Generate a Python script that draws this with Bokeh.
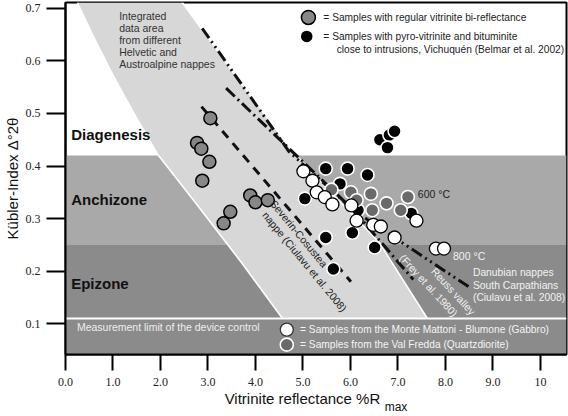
import math
from bokeh.plotting import figure
from bokeh.models import ColumnDataSource, FixedTicker, LinearAxis, Range1d
from bokeh.core.properties import value
from bokeh.embed import file_html
from bokeh.resources import INLINE

# ---------------- axes ----------------
X_START, X_END = 0.0, 10.55
Y_START, Y_END = 0.0415, 0.711
x_ticks = [0, 1, 2, 3, 4, 5, 6, 7, 8, 9, 10]
x_tick_labels = ["0.0", "1.0", "2.0", "3.0", "4.0", "5.0", "6.0", "7.0", "8.0", "9.0", "10"]
y_ticks = [0.1, 0.2, 0.3, 0.4, 0.5, 0.6, 0.7]
y_tick_labels = ["0.1", "0.2", "0.3", "0.4", "0.5", "0.6", "0.7"]
x_title = "Vitrinite reflectance %R"
x_title_sub = "max"
y_title = "Kübler-Index Δ°2θ"
x_title_pos = 4.99
x_title_sub_pos = 6.96

# ---------------- zones ----------------
diag_anchi = 0.42
anchi_epi = 0.25
meas_limit = 0.11

band_left_x = [0.25, 0.572, 0.992, 1.453, 1.935, 2.774, 3.717, 4.57]
band_left_y = [0.711, 0.649, 0.574, 0.498, 0.423, 0.326, 0.215, 0.11]
band_right_x = [2.46, 3.633, 4.828, 5.75, 6.61, 7.62]
band_right_y = [0.711, 0.565, 0.423, 0.335, 0.254, 0.11]

# ---------------- trend lines ----------------
severin_x = [2.864, 6.01]
severin_y = [0.513, 0.180]
frey_x = [3.382, 6.065, 7.323]
frey_y = [0.548, 0.316, 0.184]
danubian_x = [2.878, 4.702, 6.065, 6.925, 8.497]
danubian_y = [0.662, 0.428, 0.316, 0.264, 0.170]

# ---------------- samples ----------------
regular_x = [3.05, 2.77, 2.86, 3.03, 2.88, 3.89, 4.00, 4.26, 3.47, 3.33]
regular_y = [0.491, 0.444, 0.433, 0.408, 0.372, 0.344, 0.331, 0.335, 0.313, 0.291]

pyro_x = [6.62, 6.82, 6.93, 6.78, 5.48, 5.94, 6.36, 5.78, 5.04, 6.16, 7.28, 5.48, 6.04, 6.51, 5.64]
pyro_y = [0.450, 0.459, 0.466, 0.435, 0.395, 0.395, 0.383, 0.366, 0.338, 0.316, 0.310, 0.264, 0.273, 0.245, 0.204]

valfredda_x = [5.60, 6.01, 6.13, 6.43, 6.46, 6.76, 7.06, 7.21]
valfredda_y = [0.355, 0.350, 0.335, 0.347, 0.316, 0.329, 0.316, 0.341]

mattoni_x = [5.01, 5.20, 5.29, 5.46, 5.62, 6.02, 6.13, 6.48, 6.64, 6.93, 7.39, 7.80, 7.97]
mattoni_y = [0.390, 0.372, 0.350, 0.341, 0.327, 0.325, 0.296, 0.288, 0.285, 0.264, 0.296, 0.243, 0.243]

# ---------------- colours ----------------
C_ANCHI = "#a9a9a9"
C_EPI = "#8b8b8b"
C_BAND = "#d7d7d7"
C_REG = "#878787"
C_VF = "#6a6a6a"

p = figure(width=568, height=416,
           x_range=Range1d(X_START, X_END), y_range=Range1d(Y_START, Y_END),
           output_backend="svg", toolbar_location=None,
           min_border_left=63, min_border_right=2, min_border_top=2, min_border_bottom=59)
p.xgrid.visible = False
p.ygrid.visible = False
p.background_fill_color = "white"
p.border_fill_color = "white"
p.outline_line_color = "black"
p.outline_line_width = 2

# zones
p.quad(left=[X_START], right=[X_END], bottom=[anchi_epi], top=[diag_anchi],
       fill_color=C_ANCHI, line_color=None)
p.quad(left=[X_START], right=[X_END], bottom=[Y_START], top=[anchi_epi],
       fill_color=C_EPI, line_color=None)
band_x = band_left_x + band_right_x[::-1]
band_y = band_left_y + band_right_y[::-1]
p.patch(band_x, band_y, fill_color=C_BAND, line_color=None)
p.line(band_left_x, band_left_y, line_color="white", line_width=1.6)
p.line(band_right_x, band_right_y, line_color="white", line_width=1.6)
p.line([X_START, X_END], [meas_limit, meas_limit], line_color="white", line_width=2)

# trend lines
p.line(severin_x, severin_y, line_color="#111111", line_width=3, line_dash="9 7")
p.line(frey_x, frey_y, line_color="#111111", line_width=3, line_dash="12 4 2 4")
p.line(danubian_x, danubian_y, line_color="#111111", line_width=3, line_dash="12 4 2 4 2 4")

# samples
p.scatter(regular_x, regular_y, size=13, fill_color=C_REG, line_color="black", line_width=1.5)
p.scatter(pyro_x, pyro_y, size=13, fill_color="black", line_color="white", line_width=1.6)
p.scatter(valfredda_x, valfredda_y, size=13, fill_color=C_VF, line_color="white", line_width=1.6)
p.scatter(mattoni_x, mattoni_y, size=13, fill_color="white", line_color="black", line_width=1.3)

# legend markers (inside plot)
p.scatter([5.115], [0.6826], size=14, fill_color=C_REG, line_color="black", line_width=1.5)
p.scatter([5.08], [0.6465], size=13, fill_color="black", line_color="white", line_width=1.5)
p.scatter([4.66], [0.0888], size=13, fill_color="white", line_color="#333333", line_width=1.3)
p.scatter([4.66], [0.0602], size=13, fill_color=C_VF, line_color="white", line_width=1.6)

FONT = value("Liberation Sans")

def texts(xs, ys, labels, color, size="10.5px", style="normal", angle=0.0, align="left"):
    src = ColumnDataSource(dict(x=xs, y=ys, text=labels))
    p.text(x="x", y="y", text="text", source=src, text_font=FONT,
           text_font_size=value(size), text_font_style=style, text_color=color,
           text_align=align, text_baseline="middle", angle=angle)

texts([1.13] * 5, [0.6858, 0.6634, 0.6402, 0.6178, 0.5948],
      ["Integrated", "data area", "from different", "Helvetic and", "Austroalpine nappes"], "#333333")
texts([5.43, 5.43, 5.71], [0.6826, 0.6465, 0.6215],
      ["= Samples with regular vitrinite bi-reflectance",
       "= Samples with pyro-vitrinite and bituminite",
       "close to intrusions, Vichuquén (Belmar et al. 2002)"], "#222222", size="10.2px")
texts([0.12, 0.12, 0.12], [0.4596, 0.3363, 0.1761],
      ["Diagenesis", "Anchizone", "Epizone"], "#111111", size="15px", style="bold")
texts([7.42], [0.347], ["600 °C"], "#222222")
texts([8.16], [0.229], ["800 °C"], "#f2f2f2")
texts([8.58, 8.58, 8.58], [0.1966, 0.1729, 0.1499],
      ["Danubian nappes", "South Carpathians", "(Ciulavu et al. 2008)"], "#f2f2f2", size="10.3px")
texts([0.24], [0.0938], ["Measurement limit of the device control"], "#eeeeee")
texts([4.94, 4.94], [0.0888, 0.0602],
      ["= Samples from the Monte Mattoni - Blumone (Gabbro)",
       "= Samples from the Val Fredda (Quartzdiorite)"], "#f4f4f4", size="10.2px")
texts([4.92, 5.04], [0.2714, 0.218], ["Severin-Cosustea", "nappe (Ciulavu et al. 2008)"],
      "#222222", angle=-math.radians(50.5), align="center")
texts([8.17, 7.65], [0.162, 0.173], ["Reuss valley", "(Frey et al. 1980)"],
      "#f2f2f2", angle=-math.radians(47.5), align="center")

# axes
xa = p.xaxis[0]
ya = p.yaxis[0]
for ax in (xa, ya):
    ax.major_tick_in = 0
    ax.minor_tick_line_color = None
    ax.major_tick_line_width = 2
    ax.major_tick_line_color = "black"
    ax.axis_line_width = 2
    ax.axis_line_color = "black"
    ax.major_label_text_font = "Liberation Serif"
    ax.major_label_text_font_size = "12px"
    ax.major_label_text_color = "#222222"
xa.ticker = FixedTicker(ticks=x_ticks)
xa.major_label_overrides = dict(zip(x_ticks, x_tick_labels))
xa.major_tick_out = 16
xa.major_label_standoff = 7
ya.ticker = FixedTicker(ticks=y_ticks)
ya.major_label_overrides = dict(zip(y_ticks, y_tick_labels))
ya.major_tick_out = 19
ya.major_label_standoff = 6
ya.axis_label = y_title
ya.axis_label_text_font = "Liberation Sans"
ya.axis_label_text_font_size = "15px"
ya.axis_label_text_font_style = "normal"
ya.axis_label_text_color = "#111111"
ya.axis_label_standoff = 2

# x axis title drawn as two label-only axes (main part + subscript)
def label_axis(pos, text, size, standoff):
    ax = LinearAxis(ticker=FixedTicker(ticks=[pos]), major_label_overrides={pos: text},
                    major_tick_line_color=None, minor_tick_line_color=None,
                    axis_line_color=None, major_tick_out=0, major_tick_in=0,
                    major_label_text_font="Liberation Sans", major_label_text_font_size=size,
                    major_label_text_color="#111111", major_label_standoff=standoff)
    p.add_layout(ax, "below")

label_axis(x_title_pos, x_title, "15px", 1)
label_axis(x_title_sub_pos, x_title_sub, "12px", -10)

open("out.html", "w").write(file_html(p, INLINE))
